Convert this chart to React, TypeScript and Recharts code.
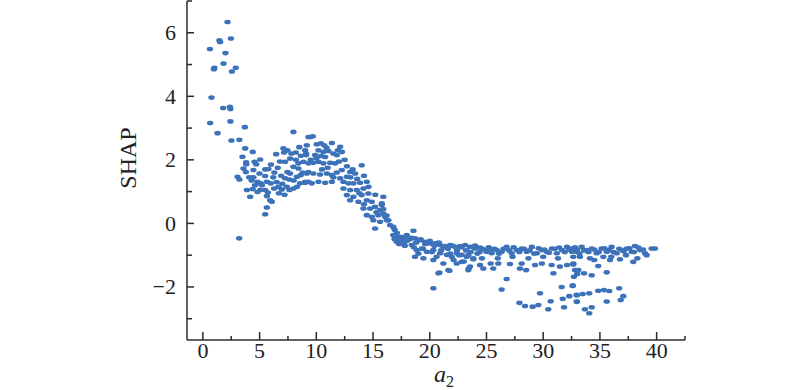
import React from 'react';
import { ScatterChart, Scatter, XAxis, YAxis } from 'recharts';

// Feature a2 vs SHAP values
const peakPoints: number[][] = [
  [2.17, 6.34], [2.47, 5.82], [1.46, 5.76], [1.52, 5.71], [0.62, 5.49], [1.99, 5.36], [1.82, 5.03],
  [1.02, 4.9], [0.97, 4.85], [2.9, 4.9], [2.56, 4.78], [0.76, 3.96], [1.79, 3.63], [2.38, 3.67],
  [2.43, 3.6], [0.64, 3.16], [2.43, 3.21], [3.7, 3.03], [1.29, 2.84], [2.52, 2.61], [3.22, 2.63], [3.73, 2.36],
];

const humpPoints: number[][] = [
  [3.49, 2.1], [4.4, 2.25], [3.82, 1.92], [3.82, 1.86], [4.55, 1.94], [4.7, 1.86], [5.05, 2.01], [3.58, 1.73],
  [3.79, 1.62], [4.46, 1.68], [5.78, 1.71], [6.6, 1.75], [7.1, 2.36], [7.16, 2.23], [6.46, 2.18], [7.45, 2.3],
  [8.19, 2.23], [7.69, 2.04], [7.25, 1.94], [8.63, 2.13], [9.1, 2.2], [9.3, 2.72], [9.16, 2.46], [8.42, 1.89],
  [7.98, 1.78], [8.42, 1.73], [3.05, 1.47], [3.22, 1.38], [4.08, 1.45], [4.46, 1.45], [4.99, 1.57], [5.49, 1.49],
  [4.81, 1.31], [5.11, 1.26], [5.64, 1.31], [5.99, 1.26], [7.45, 1.62], [7.69, 1.57], [7.25, 1.42], [7.63, 1.38],
  [8.28, 1.47], [8.63, 1.52], [9.16, 1.57], [9.3, 1.31], [8.57, 1.26], [9.01, 1.28], [3.88, 1.05], [4.4, 1.08],
  [4.81, 0.99], [5.05, 1.05], [4.17, 0.84], [5.49, 1.05], [5.73, 0.97], [6.28, 1.1], [6.66, 1.15], [6.96, 1.07],
  [7.4, 1.15], [7.63, 1.05], [7.98, 1.1], [5.64, 0.86], [5.93, 0.73], [6.08, 0.68], [5.64, 0.5], [5.49, 0.29],
  [3.2, -0.47], [7.98, 2.88],
  [6.2, 1.45], [6.5, 1.3], [6.9, 1.5], [7.0, 1.25], [6.3, 1.6], [8.0, 1.35], [8.8, 1.6], [6.8, 1.95],
  [6.0, 1.85], [5.5, 1.7], [5.2, 1.2], [4.6, 1.2], [4.3, 1.35], [6.7, 0.95], [7.2, 0.9], [8.3, 1.15],
  [8.5, 2.4], [8.2, 2.0], [7.8, 2.2],
];

const bumpPoints: number[][] = [
  [9.45, 2.72], [9.69, 2.74], [9.01, 2.3], [9.1, 2.15], [10.04, 2.49], [10.4, 2.52], [10.69, 2.46],
  [11.37, 2.53], [12.1, 2.41], [12.25, 2.25], [11.8, 2.15], [11.5, 2.2], [10.19, 2.3], [10.63, 2.25], [11.07, 2.28],
  [9.89, 2.15], [10.4, 2.12], [10.78, 2.09], [8.86, 1.94], [9.3, 1.89], [9.74, 1.91], [10.19, 1.94], [10.63, 1.89],
  [11.22, 1.91], [11.66, 1.89], [14.0, 1.83], [9.3, 1.62], [9.74, 1.57], [10.33, 1.54], [10.93, 1.57], [11.37, 1.52],
  [9.01, 1.31], [9.6, 1.26], [10.19, 1.31], [10.78, 1.28], [11.37, 1.31],
  [10.5, 1.7], [11.0, 1.75], [11.8, 1.6], [12.0, 1.95], [12.5, 2.0], [11.9, 2.3], [10.9, 2.38], [10.0, 2.05],
  [9.5, 2.0], [11.5, 1.45],
];

const declinePoints: number[][] = [
  [12.25, 1.68], [12.98, 1.62], [13.42, 1.57], [12.69, 1.47], [12.1, 1.42], [12.39, 1.31], [12.83, 1.26],
  [13.27, 1.26], [13.86, 1.28], [14.45, 1.31], [12.39, 1.1], [12.98, 1.05], [13.57, 1.05], [14.15, 1.1],
  [12.69, 0.89], [13.27, 0.84], [14.0, 0.89], [14.59, 0.94], [12.98, 0.73], [13.71, 0.68], [14.45, 0.73],
  [14.89, 0.68], [15.91, 0.84], [15.77, 0.63], [14.15, 0.47], [14.74, 0.47], [15.18, 0.52], [15.62, 0.42],
  [14.45, 0.26], [14.89, 0.21], [15.47, 0.26], [16.06, 0.21], [16.35, 0.1], [15.03, 0.1], [15.62, 0.05],
  [15.18, -0.16], [16.79, -0.37], [17.38, -0.42], [17.97, -0.37], [15.77, 0.58], [15.91, 0.31], [16.21, 0.1],
  [16.5, -0.05], [16.79, -0.11],
  [12.7, 1.8], [13.0, 1.45], [13.6, 1.4], [13.2, 1.7], [14.2, 1.5], [14.6, 1.15], [13.8, 0.95], [15.2, 0.9],
  [14.2, 0.6], [15.3, 0.35], [15.9, 0.45], [16.2, 0.25], [16.9, -0.2], [17.1, -0.3], [17.5, -0.55],
  [17.3, -0.65], [16.9, -0.5],
];

const bandPoints: number[][] = [
  [18.56, -0.23], [16.93, -0.42], [17.38, -0.47], [17.82, -0.42], [18.26, -0.5], [18.7, -0.47], [19.15, -0.53],
  [19.59, -0.58], [20.03, -0.63], [20.47, -0.63], [20.91, -0.68], [21.35, -0.71], [21.8, -0.68], [22.24, -0.74],
  [22.68, -0.71], [23.12, -0.68], [23.56, -0.74], [24.0, -0.79], [24.45, -0.76], [24.89, -0.82], [25.33, -0.84],
  [17.09, -0.58], [17.67, -0.63], [18.41, -0.68], [18.85, -0.84], [19.3, -0.79], [19.74, -0.89], [20.32, -0.84],
  [20.91, -0.94], [21.5, -0.99], [21.94, -1.05], [22.38, -0.94], [22.82, -0.99], [23.26, -1.05], [23.84, -1.1],
  [17.2, -0.45], [17.6, -0.5], [18.0, -0.55], [18.4, -0.45], [18.8, -0.6], [19.2, -0.5], [19.6, -0.65],
  [20.0, -0.55], [20.4, -0.7], [20.8, -0.6], [21.2, -0.75], [21.6, -0.8], [22.0, -0.7], [22.4, -0.85],
  [22.8, -0.75], [23.2, -0.85], [23.6, -0.9], [24.0, -0.7], [24.4, -0.9], [17.8, -0.7], [18.6, -0.75],
  [19.4, -0.8], [20.2, -0.9], [21.0, -0.85], [21.8, -0.95], [22.6, -1.0], [23.4, -1.0], [24.2, -0.95],
  [19.0, -0.95], [20.6, -1.05], [22.1, -1.15], [23.0, -1.2], [24.6, -1.1],
  [24.57, -0.79], [25.0, -0.89], [25.46, -0.94], [25.9, -0.84], [26.34, -0.89], [26.78, -0.74], [27.22, -0.94],
  [27.67, -0.84], [28.11, -0.79], [28.55, -0.89], [29.0, -0.74], [29.44, -0.94], [29.88, -0.84], [30.32, -0.89],
  [30.77, -0.79], [31.2, -0.94], [31.65, -0.84], [32.1, -0.74], [32.53, -0.89], [32.97, -0.84],
  [32.5, -0.79], [32.95, -0.89], [33.39, -0.74], [33.83, -0.84], [34.27, -0.79], [34.71, -0.94], [35.15, -0.79],
  [35.6, -0.89], [36.03, -0.74], [36.48, -0.94], [36.92, -0.84], [37.36, -0.79], [37.8, -0.89], [38.09, -0.71],
  [38.53, -0.84], [38.97, -0.94], [39.85, -0.79], [39.56, -0.79],
  [25.2, -0.75], [25.7, -0.8], [26.1, -0.95], [26.5, -0.8], [27.0, -0.85], [27.4, -0.75], [27.9, -0.9],
  [28.3, -0.8], [28.8, -0.85], [29.2, -0.95], [29.6, -0.78], [30.1, -0.82], [30.5, -0.92], [31.0, -0.8],
  [31.4, -0.76], [31.9, -0.9], [32.3, -0.82], [32.8, -0.75], [33.2, -0.95], [33.6, -0.85], [34.0, -0.9],
  [34.5, -0.82], [34.9, -0.9], [35.4, -0.78], [35.8, -0.84], [36.2, -0.9], [36.7, -0.8], [37.1, -0.88],
  [37.6, -0.78], [38.0, -0.9], [38.4, -0.76], [38.8, -0.82],
  [26.0, -1.1], [27.3, -1.05], [28.7, -1.1], [30.0, -1.05], [31.3, -1.1], [34.5, -1.15], [36.0, -1.05],
  [37.3, -1.0], [38.3, -1.1], [32.65, -1.05], [33.24, -1.05], [34.12, -1.1], [35.3, -1.05], [35.89, -1.15],
  [36.77, -1.13], [37.94, -1.21], [39.12, -1.0],
];

const tailPoints: number[][] = [
  [18.7, -1.05], [19.44, -1.1], [20.32, -1.15], [21.2, -1.26], [21.64, -1.47], [22.38, -1.26], [22.82, -1.21],
  [23.55, -1.36], [23.4, -1.47], [23.84, -1.13], [24.43, -1.31], [20.76, -1.57], [20.32, -2.04],
  [20.85, -1.55], [21.73, -1.49], [23.44, -1.42], [25.37, -1.26], [28.5, -1.47],
  [24.72, -1.42], [25.6, -1.42], [26.04, -1.26], [27.07, -1.28], [27.95, -1.42], [28.1, -1.26], [29.28, -1.31],
  [29.88, -1.26], [30.75, -1.31], [30.9, -1.57], [31.47, -1.36], [32.1, -1.31], [32.66, -1.26], [33.1, -1.47],
  [26.78, -1.75], [26.34, -2.08], [27.9, -2.5], [28.4, -2.6], [29.07, -2.62], [29.57, -2.57], [30.45, -2.7],
  [30.66, -2.45], [29.72, -2.2], [31.63, -2.0], [31.72, -2.37], [31.84, -2.64], [32.3, -2.29], [32.6, -1.95],
  [32.97, -2.26], [32.97, -2.47],
  [32.65, -1.29], [34.85, -1.34], [32.8, -1.47], [33.0, -1.59], [33.6, -1.57], [34.27, -1.63], [35.6, -1.54],
  [32.71, -1.68], [32.6, -1.97], [32.95, -2.25], [33.48, -2.22], [34.06, -2.2], [34.85, -2.12], [35.36, -2.1],
  [35.82, -2.13], [36.7, -2.04], [37.06, -2.29], [36.83, -2.41], [35.6, -2.46], [32.95, -2.46], [33.68, -2.7],
  [34.27, -2.64], [34.06, -2.83],
];

const xTicks = [0, 2.5, 5, 7.5, 10, 12.5, 15, 17.5, 20, 22.5, 25, 27.5, 30, 32.5, 35, 37.5, 40, 42.5];
const yTicks = [-3, -2, -1, 0, 1, 2, 3, 4, 5, 6, 7];

const allPoints = [...peakPoints, ...humpPoints, ...bumpPoints, ...declinePoints, ...bandPoints, ...tailPoints];
const data = allPoints.map(([x, y]) => ({ x, y }));

const FONT = '"Liberation Serif", "DejaVu Serif", serif';
const AXIS = '#2b2b2b';
const DOT = '#3c72b9';

const fmt = (v: number) => (v < 0 ? `\u2212${-v}` : `${v}`);

const YTick = (props: any) => {
  const { x, y, payload } = props;
  const v = payload.value;
  const major = Math.abs(v % 2) === 0;
  return (
    <g>
      <line x1={x} x2={x + (major ? 7 : 5)} y1={y} y2={y} stroke={AXIS} strokeWidth={1.5} />
      {major && (
        <text x={x - 11} y={y} dy={7.5} textAnchor="end" fontFamily={FONT} fontSize={22} fill="#222">
          {fmt(v)}
        </text>
      )}
    </g>
  );
};

const XTick = (props: any) => {
  const { x, y, payload } = props;
  const v = payload.value;
  const major = v % 5 === 0 && v <= 40;
  return (
    <g>
      <line x1={x} x2={x} y1={y} y2={y - (major ? 8 : 4)} stroke={AXIS} strokeWidth={1.5} />
      {major && (
        <text x={x} y={y + 18} textAnchor="middle" fontFamily={FONT} fontSize={22} fill="#222">
          {fmt(v)}
        </text>
      )}
    </g>
  );
};

const Dot = (props: any) => {
  const { cx, cy } = props;
  if (cx == null || cy == null) return null;
  return <ellipse cx={cx} cy={cy} rx={3.2} ry={2.3} fill={DOT} />;
};

const XLabel = () => (
  <text x={434} y={382} fontFamily={FONT} fontSize={24} fill="#222" textAnchor="start">
    <tspan fontStyle="italic">a</tspan>
    <tspan fontSize={16} dy={5}>2</tspan>
  </text>
);

const YLabel = () => (
  <text
    x={128}
    y={158}
    transform="rotate(-90 128 158)"
    fontFamily={FONT}
    fontSize={24}
    fill="#222"
    textAnchor="middle"
    dominantBaseline="central"
  >
    SHAP
  </text>
);

export default function App() {
  return (
    <div style={{ position: 'absolute', left: 0, top: 0, width: 800, height: 390, background: '#fff' }}>
      <ScatterChart width={800} height={390} margin={{ top: 1, right: 115, bottom: 0, left: 0 }}>
        <XAxis
          type="number"
          dataKey="x"
          domain={[-1.4, 42.5]}
          ticks={xTicks}
          allowDataOverflow
          tickLine={false}
          tickSize={0}
          tickMargin={0}
          tick={<XTick />}
          height={50}
          axisLine={{ stroke: AXIS, strokeWidth: 1.5 }}
          interval={0}
          label={{ content: () => <XLabel /> }}
        />
        <YAxis
          type="number"
          dataKey="y"
          domain={[-3.67, 7]}
          ticks={yTicks}
          allowDataOverflow
          tickLine={false}
          tickSize={0}
          tickMargin={0}
          tick={<YTick />}
          width={187}
          axisLine={{ stroke: AXIS, strokeWidth: 1.5 }}
          interval={0}
          label={{ content: () => <YLabel /> }}
        />
        <Scatter data={data} shape={<Dot />} isAnimationActive={false} />
      </ScatterChart>
    </div>
  );
}
